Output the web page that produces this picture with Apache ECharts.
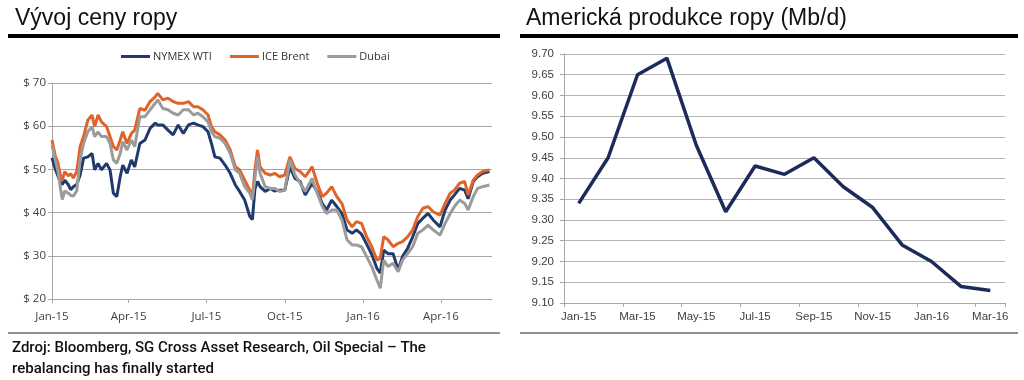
<!DOCTYPE html>
<html>
<head>
<meta charset="utf-8">
<script src="https://cdn.jsdelivr.net/npm/echarts@6/dist/echarts.min.js"></script>
<style>
html,body{margin:0;padding:0;background:#fff;}
#chart{width:1024px;height:380px;}
</style>
</head>
<body>
<div id="chart"></div>
<script>
// ---- Left chart: oil prices (days since 2015-01-01) ----
const priceDays = [0,4,7,10,12,15,19,22,25,29,33,37,42,47,50,54,58,64,68,72,76,80,83,88,93,97,103,109,115,121,124,130,136,142,148,154,160,166,171,177,183,187,191,197,203,209,215,220,226,232,235,238,241,244,250,256,261,267,273,279,285,291,297,305,311,317,322,328,334,340,346,352,357,363,369,375,381,385,389,394,400,406,411,417,423,429,435,441,447,455,461,467,472,478,484,488,494,499,505,513];
const wti   = [52.7,50.0,48.5,47.0,46.5,47.5,46.5,45.3,46.0,46.5,48.7,52.6,52.9,53.7,49.9,51.4,49.9,51.4,49.9,44.5,43.7,48.3,51.0,49.1,52.2,50.6,56.0,56.8,59.5,60.7,60.3,60.3,59.1,58.0,60.3,58.3,60.3,60.7,60.3,59.9,58.7,56.0,52.9,52.6,51.0,49.1,46.4,44.9,42.9,39.1,38.4,45.5,47.2,46.0,44.9,45.6,45.0,45.2,45.2,50.6,47.9,47.2,44.1,46.8,44.9,42.1,40.6,42.9,41.4,39.8,36.0,35.2,36.0,35.0,32.7,30.3,27.1,26.0,31.3,30.5,30.5,26.7,29.8,31.7,34.4,37.5,38.7,39.8,38.3,36.7,40.6,42.9,44.1,45.6,45.2,43.2,47.2,48.3,49.1,49.5];
const brent = [56.8,53.0,51.5,48.5,47.5,49.5,48.5,49.0,48.0,49.5,55.3,57.6,61.4,62.6,59.9,62.6,61.0,59.9,57.6,55.3,54.5,56.8,58.7,56.0,58.3,59.1,64.1,63.7,65.7,66.8,67.6,66.1,66.5,65.7,65.3,65.3,65.7,64.5,64.5,63.8,62.6,59.9,58.7,58.0,56.8,54.5,50.6,49.9,47.5,45.2,43.5,50.0,54.5,50.6,49.1,48.7,49.1,48.3,48.7,52.9,50.2,49.5,48.3,50.6,46.8,43.7,44.5,46.0,43.7,42.1,38.3,36.7,37.9,37.5,34.4,32.1,29.0,29.5,34.4,33.7,32.1,32.9,33.3,34.4,36.0,39.1,41.0,41.4,40.2,39.4,42.1,44.5,45.2,46.8,47.2,44.1,47.5,48.7,49.5,49.9];
const dubai = [55.6,52.0,49.5,45.5,43.0,45.0,44.5,44.0,43.8,45.0,52.2,56.0,58.7,59.9,57.6,58.7,57.6,57.6,56.0,52.2,51.4,53.7,56.4,54.5,56.8,55.3,62.2,62.2,63.8,65.3,66.1,64.1,63.8,63.0,62.6,63.8,63.8,62.6,63.0,62.2,61.0,58.7,57.6,57.2,56.0,53.7,49.9,49.1,46.0,44.5,43.0,48.0,52.9,49.1,46.0,45.6,45.6,44.9,45.2,52.2,48.7,46.8,44.9,47.9,44.5,41.4,39.8,40.6,40.6,38.3,33.7,32.5,32.5,32.1,29.8,27.5,24.4,22.5,29.0,27.5,28.3,26.3,29.0,30.5,32.1,35.2,36.0,37.1,36.0,34.8,37.5,39.8,41.4,42.9,42.1,40.6,43.7,45.6,46.0,46.4];
const seriesNames = ['NYMEX WTI','ICE Brent','Dubai'];
const priceTickDays = [0,90,181,273,365,456];
const priceTickLabels = ['Jan-15','Apr-15','Jul-15','Oct-15','Jan-16','Apr-16'];

// ---- Right chart: US crude production (Mb/d) ----
const prodMonths = ['Jan-15','Feb-15','Mar-15','Apr-15','May-15','Jun-15','Jul-15','Aug-15','Sep-15','Oct-15','Nov-15','Dec-15','Jan-16','Feb-16','Mar-16'];
const production = [9.34,9.45,9.65,9.69,9.48,9.32,9.43,9.41,9.45,9.38,9.33,9.24,9.20,9.14,9.13];

const leftTitle = 'Vývoj ceny ropy';
const rightTitle = 'Americká produkce ropy (Mb/d)';
const sourceLines = ['Zdroj: Bloomberg, SG Cross Asset Research, Oil Special \u2013 The','rebalancing has finally started'];

const pair = (xs, ys) => xs.map((x, i) => [x, ys[i]]);
const labelColor = '#404040';
const gridColor = '#a6a6a6';

const chart = echarts.init(document.getElementById('chart'), null, {renderer: 'canvas'});
chart.setOption({
  animation: false,
  backgroundColor: '#ffffff',
  color: ['#203a6b', '#e2622b', '#9b9b9b'],
  title: [
    {text: leftTitle, left: 10, top: 2, textStyle: {fontFamily: 'Liberation Sans', fontSize: 23, fontWeight: 'normal', color: '#111'}},
    {text: rightTitle, left: 521, top: 2, textStyle: {fontFamily: 'Liberation Sans', fontSize: 23, fontWeight: 'normal', color: '#111'}}
  ],
  legend: {
    data: seriesNames,
    left: 116, top: 46,
    icon: 'rect', itemWidth: 29, itemHeight: 3, itemGap: 18,
    textStyle: {fontFamily: 'Open Sans', fontSize: 11, color: '#333', padding: [0,0,0,-2]}
  },
  graphic: [
    {type: 'rect', shape: {x: 8, y: 34, width: 492, height: 4}, style: {fill: '#000'}},
    {type: 'rect', shape: {x: 520, y: 34, width: 498, height: 4}, style: {fill: '#000'}},
    {type: 'rect', shape: {x: 8, y: 332, width: 492, height: 2}, style: {fill: '#8f8f8f'}},
    {type: 'rect', shape: {x: 520, y: 332, width: 498, height: 2}, style: {fill: '#8f8f8f'}},
    {type: 'text', left: 12, top: 338, style: {text: sourceLines.join('\n'), font: '500 15px Roboto', fill: '#111', lineHeight: 21}}
  ],
  grid: [
    {left: 52, right: 532, top: 83, bottom: 81},
    {left: 564, right: 19, top: 54, bottom: 77}
  ],
  xAxis: [
    {
      type: 'value', gridIndex: 0, min: 0, max: 516,
      axisLine: {show: true, lineStyle: {color: gridColor, width: 1}},
      axisTick: {show: true, length: 4, customValues: priceTickDays, lineStyle: {color: gridColor}},
      splitLine: {show: false},
      axisLabel: {
        customValues: priceTickDays, margin: 12,
        fontFamily: 'Open Sans', fontSize: 11.5, color: labelColor,
        formatter: v => priceTickLabels[priceTickDays.indexOf(v)] || ''
      }
    },
    {
      type: 'category', gridIndex: 1, data: prodMonths, boundaryGap: true,
      axisLine: {show: true, lineStyle: {color: gridColor, width: 1}},
      axisTick: {show: true, interval: 1, length: 4, lineStyle: {color: gridColor}},
      axisLabel: {interval: 1, margin: 8, fontFamily: 'Liberation Sans', fontSize: 11.5, color: labelColor}
    }
  ],
  yAxis: [
    {
      type: 'value', gridIndex: 0, min: 20, max: 70, interval: 10,
      axisLine: {show: true, lineStyle: {color: gridColor, width: 1}},
      axisTick: {show: true, length: 4, lineStyle: {color: gridColor}},
      splitLine: {show: true, lineStyle: {color: gridColor, width: 1}},
      axisLabel: {margin: 6, fontFamily: 'Open Sans', fontSize: 11.5, color: labelColor, formatter: v => '$ ' + v}
    },
    {
      type: 'value', gridIndex: 1, min: 9.10, max: 9.70, interval: 0.05,
      axisLine: {show: true, lineStyle: {color: gridColor, width: 1}},
      axisTick: {show: true, length: 4, lineStyle: {color: gridColor}},
      splitLine: {show: true, lineStyle: {color: '#b5b5b5', width: 1}},
      axisLabel: {margin: 10, fontFamily: 'Liberation Sans', fontSize: 11.5, color: labelColor, formatter: v => v.toFixed(2)}
    }
  ],
  series: [
    {name: seriesNames[0], type: 'line', xAxisIndex: 0, yAxisIndex: 0, data: pair(priceDays, wti), showSymbol: false, lineStyle: {width: 3}},
    {name: seriesNames[1], type: 'line', xAxisIndex: 0, yAxisIndex: 0, data: pair(priceDays, brent), showSymbol: false, lineStyle: {width: 3}},
    {name: seriesNames[2], type: 'line', xAxisIndex: 0, yAxisIndex: 0, data: pair(priceDays, dubai), showSymbol: false, lineStyle: {width: 3}},
    {name: 'US production', type: 'line', xAxisIndex: 1, yAxisIndex: 1, data: production, showSymbol: false, lineStyle: {width: 3.5, color: '#1c2b59'}, itemStyle: {color: '#1c2b59'}}
  ]
});
</script>
</body>
</html>
